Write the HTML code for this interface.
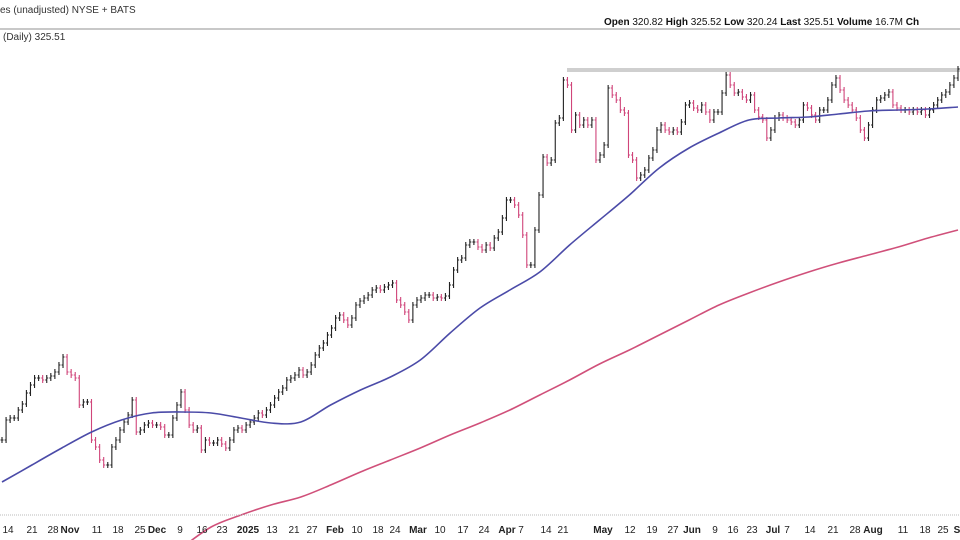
<!DOCTYPE html>
<html><head><meta charset="utf-8">
<style>
html,body{margin:0;background:#fff;width:960px;height:540px;overflow:hidden;font-family:"Liberation Sans",sans-serif;}
svg{display:block;overflow:hidden}
</style></head>
<body>
<svg id="chart" width="960" height="540" xmlns="http://www.w3.org/2000/svg">
  <defs><clipPath id="plotclip"><rect x="0" y="30" width="960" height="510"/></clipPath></defs>
  <text x="0" y="13" font-size="10" fill="#333">es (unadjusted) NYSE + BATS</text>
  <text x="604" y="25" font-size="10" fill="#111"><tspan font-weight="bold">Open</tspan> 320.82 <tspan font-weight="bold">High</tspan> 325.52 <tspan font-weight="bold">Low</tspan> 320.24 <tspan font-weight="bold">Last</tspan> 325.51 <tspan font-weight="bold">Volume</tspan> 16.7M <tspan font-weight="bold">Ch</tspan></text>
  <line x1="0" y1="29" x2="960" y2="29" stroke="#c8c8c8" stroke-width="2"/>
  <text x="3" y="40" font-size="10" fill="#333">(Daily) 325.51</text>
  <rect x="567" y="68" width="393" height="4" fill="#cfcfcf"/>
  <g id="bars" clip-path="url(#plotclip)"></g>
  <g id="lines" clip-path="url(#plotclip)"></g>
  <line x1="0" y1="515" x2="960" y2="515" stroke="#bbb" stroke-dasharray="1,1"/>
  <g id="xlabels" font-size="10" fill="#222" text-anchor="middle"></g>
</svg>
<script>
const closes=[140,150,151,151,155,158,163.5,167.5,171,171,170,171,172,174,177.5,181.5,174,172.5,171,157.5,159,159,140,136.5,130,127.5,127.5,136.5,140,145,149,152.5,160,144,145,147.5,148.5,147.5,147.5,146.5,142.5,142.5,151,157.5,164,155,147.5,145,146,135,140,138.5,138.5,140,138,136,140,145,146,145,147.5,149,151,153.5,152.5,155,157.5,161,164,166,170,171,172.5,175,172.5,174,177.5,182.5,186,188.5,192.5,196,201,202.5,200,197.5,201,207.5,209.5,211,212.5,215,216,215,216.5,217.5,218.5,210,207.5,204,200,207.5,210,211,212.5,212.5,211,211.5,211,212,217.5,225,230,231,237.5,239,239,236.5,235,237.5,236,241,244,251,260,260,257.5,252.5,242.5,227.5,227.5,245,262.5,281.5,278.5,280,298.5,301,320,317.5,295,302.5,297.5,300,297.5,300,280,282.5,287.5,316,312.5,310,305,303.5,282.5,280,271,272.5,275,281,285,295,297.5,295,294,295,294,299,307.5,308.5,306,305,307.5,304,300,304,304,313.5,322.5,317.5,313.5,314,311.5,310,312.5,305,301.5,300,291,295,301,302.5,301,300,299,297.5,300,307.5,306,302.5,300,305,305,310,317.5,321,315,310,307.5,305,301,295,291,297.5,305,310,311,312.5,314,307.5,306,305,305,304,305,304,305,302.5,305,307.5,310,312.5,314,317.5,321,325.5];
const ma50=[119,127.5,136,144,150,153.5,154,153.5,151,148.5,149,157.5,165,171.5,180,193.5,206,215,224,237.5,250,262.5,276,286,293.5,300,301,301.5,303,304.5,305,305.5,306.5];
const ma200=[40,47,54,61,68,75,86,96.5,102.5,107.5,111.5,117.5,124,130,136,142.5,148.5,155,162.5,170,178,185,192.5,200,207.5,213.5,219,224,228.5,232.5,236.5,241,245];
const tickLabels=["14","21","28","Nov","11","18","25","Dec","9","16","23","2025","13","21","27","Feb","10","18","24","Mar","10","17","24","Apr","7","14","21","May","12","19","27","Jun","9","16","23","Jul","7","14","21","28","Aug","11","18","25","S"];
const tickPos=[8,32,53,70,97,118,140,157,180,202,222,248,272,294,312,335,357,378,395,418,440,463,484,507,521,546,563,603,630,652,673,692,715,733,752,773,787,810,833,855,873,903,925,943,957];

const NS="http://www.w3.org/2000/svg";
const N=closes.length;
const step=956/(N-1);
function xScale(i){return 2+i*step;}
function yScale(p){return (360-p)*2;}
const bars=document.getElementById('bars');
for(let i=0;i<N;i++){
  const c=closes[i], o=i>0?closes[i-1]:c;
  const hi=Math.max(o,c)+1.5, lo=Math.min(o,c)-1.5;
  const col=c<o?'#d0457a':'#222';
  const x=xScale(i);
  const g=document.createElementNS(NS,'path');
  
  
  g.setAttribute('d',`M${x},${yScale(hi)}V${yScale(lo)}M${x-1.5},${yScale(o)}H${x}M${x},${yScale(c)}H${x+1.5}`);
  g.setAttribute('stroke',col);g.setAttribute('stroke-width','1.1');g.setAttribute('fill','none');
  bars.appendChild(g);
}
function maPath(arr){
  const k=(N-1)/(arr.length-1);
  const pts=arr.map((v,j)=>[xScale(j*k),yScale(v)]);
  let d='M'+pts[0][0].toFixed(1)+','+pts[0][1].toFixed(1);
  for(let j=0;j<pts.length-1;j++){
    const p0=pts[Math.max(0,j-1)],p1=pts[j],p2=pts[j+1],p3=pts[Math.min(pts.length-1,j+2)];
    const c1=[p1[0]+(p2[0]-p0[0])/6,p1[1]+(p2[1]-p0[1])/6];
    const c2=[p2[0]-(p3[0]-p1[0])/6,p2[1]-(p3[1]-p1[1])/6];
    d+=`C${c1[0].toFixed(1)},${c1[1].toFixed(1)} ${c2[0].toFixed(1)},${c2[1].toFixed(1)} ${p2[0].toFixed(1)},${p2[1].toFixed(1)}`;
  }
  return d;
}
const lines=document.getElementById('lines');
const l1=document.createElementNS(NS,'path');


l1.setAttribute('d',maPath(ma50));l1.setAttribute('stroke','#4b4ba8');l1.setAttribute('stroke-width','1.6');l1.setAttribute('fill','none');
lines.appendChild(l1);
const l2=document.createElementNS(NS,'path');


l2.setAttribute('d',maPath(ma200));l2.setAttribute('stroke','#d0507a');l2.setAttribute('stroke-width','1.6');l2.setAttribute('fill','none');
lines.appendChild(l2);
const xl=document.getElementById('xlabels');
tickLabels.forEach((t,i)=>{
  const tx=document.createElementNS(NS,'text');
  
  
  tx.setAttribute('x',tickPos[i]);tx.setAttribute('y',533);
  if(/[A-Za-z]/.test(t)||t==='2025'){tx.setAttribute('font-weight','bold');}
  tx.textContent=t;xl.appendChild(tx);
});
</script>
</body></html>
